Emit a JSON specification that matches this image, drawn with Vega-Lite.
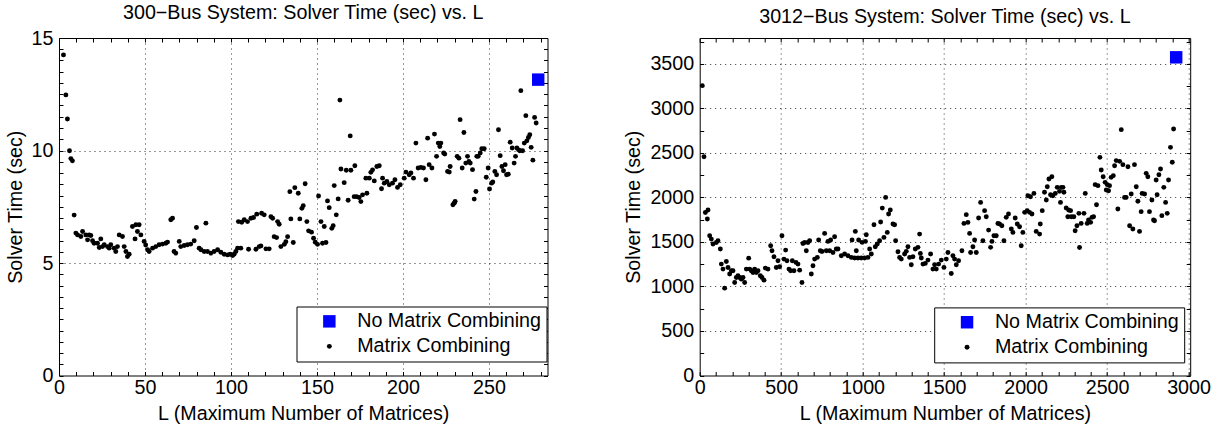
{
  "$schema": "https://vega.github.io/schema/vega-lite/v6.json",
  "background": "white",
  "padding": {"left": 5, "top": 3, "right": 5, "bottom": 3},
  "bounds": "flush",
  "spacing": 151.7,
  "resolve": {"scale": {"color": "independent", "shape": "independent", "size": "independent"}, "legend": {"color": "independent", "shape": "independent", "size": "independent"}},
  "config": {
    "font": "Liberation Sans",
    "view": {"stroke": null},
    "axis": {"labelFontSize": 19.7, "titleFontSize": 19.7, "titleFontWeight": "normal", "labelColor": "#000", "titleColor": "#000", "domainColor": "#000", "domainWidth": 1, "tickColor": "#000", "labelFlush": false, "labelOverlap": false, "format": "d"},
    "title": {"fontSize": 19.7, "fontWeight": "normal", "color": "#000", "offset": 5},
    "legend": {"title": null, "orient": "none", "strokeColor": "#000", "fillColor": "#fff", "padding": 5, "labelFontSize": 19.7, "labelColor": "#000", "labelLimit": 400, "symbolOffset": 18, "labelOffset": 18, "rowPadding": 4, "symbolStrokeWidth": 0}
  },
  "hconcat": [
    {
      "width": 488.5,
      "height": 337.5,
      "title": "300−Bus System: Solver Time (sec) vs. L",
      "data": {"values": [
        {"L":2.6,"t":14.25,"s":"Matrix Combining"},{"L":4,"t":12.47,"s":"Matrix Combining"},{"L":4.9,"t":11.4,"s":"Matrix Combining"},{"L":6.1,"t":9.99,"s":"Matrix Combining"},{"L":6.9,"t":9.64,"s":"Matrix Combining"},{"L":7.8,"t":9.54,"s":"Matrix Combining"},{"L":8.8,"t":7.13,"s":"Matrix Combining"},{"L":9.8,"t":6.33,"s":"Matrix Combining"},{"L":10.8,"t":6.25,"s":"Matrix Combining"},{"L":12.7,"t":6.18,"s":"Matrix Combining"},
        {"L":13.7,"t":6.4,"s":"Matrix Combining"},{"L":15.6,"t":6.25,"s":"Matrix Combining"},{"L":16.6,"t":6.03,"s":"Matrix Combining"},{"L":17.5,"t":6.25,"s":"Matrix Combining"},{"L":18.5,"t":6.22,"s":"Matrix Combining"},{"L":19.5,"t":5.99,"s":"Matrix Combining"},{"L":20.4,"t":5.88,"s":"Matrix Combining"},{"L":22.4,"t":5.88,"s":"Matrix Combining"},{"L":23.4,"t":5.69,"s":"Matrix Combining"},{"L":24.3,"t":6.07,"s":"Matrix Combining"},
        {"L":25.3,"t":5.73,"s":"Matrix Combining"},{"L":26.3,"t":5.81,"s":"Matrix Combining"},{"L":28.2,"t":5.73,"s":"Matrix Combining"},{"L":29.2,"t":5.66,"s":"Matrix Combining"},{"L":30.1,"t":5.81,"s":"Matrix Combining"},{"L":32.1,"t":5.66,"s":"Matrix Combining"},{"L":33,"t":5.51,"s":"Matrix Combining"},{"L":34,"t":5.73,"s":"Matrix Combining"},{"L":35,"t":6.25,"s":"Matrix Combining"},{"L":36.9,"t":6.18,"s":"Matrix Combining"},
        {"L":37.9,"t":5.73,"s":"Matrix Combining"},{"L":38.9,"t":5.51,"s":"Matrix Combining"},{"L":39.8,"t":5.29,"s":"Matrix Combining"},{"L":40.8,"t":5.39,"s":"Matrix Combining"},{"L":42.7,"t":6.62,"s":"Matrix Combining"},{"L":44.7,"t":6.7,"s":"Matrix Combining"},{"L":46.6,"t":6.7,"s":"Matrix Combining"},{"L":44.2,"t":6.07,"s":"Matrix Combining"},{"L":45.6,"t":6.4,"s":"Matrix Combining"},{"L":47.6,"t":6.25,"s":"Matrix Combining"},
        {"L":49.5,"t":5.96,"s":"Matrix Combining"},{"L":50.4,"t":5.8,"s":"Matrix Combining"},{"L":51.5,"t":5.59,"s":"Matrix Combining"},{"L":52.4,"t":5.51,"s":"Matrix Combining"},{"L":54.4,"t":5.66,"s":"Matrix Combining"},{"L":56.3,"t":5.73,"s":"Matrix Combining"},{"L":58.2,"t":5.81,"s":"Matrix Combining"},{"L":60.2,"t":5.84,"s":"Matrix Combining"},{"L":62.1,"t":5.88,"s":"Matrix Combining"},{"L":63.1,"t":5.93,"s":"Matrix Combining"},
        {"L":65,"t":6.92,"s":"Matrix Combining"},{"L":66,"t":6.99,"s":"Matrix Combining"},{"L":66.9,"t":5.51,"s":"Matrix Combining"},{"L":67.9,"t":5.44,"s":"Matrix Combining"},{"L":69.9,"t":5.96,"s":"Matrix Combining"},{"L":70.8,"t":5.73,"s":"Matrix Combining"},{"L":72.8,"t":5.78,"s":"Matrix Combining"},{"L":74.7,"t":5.81,"s":"Matrix Combining"},{"L":76.6,"t":5.84,"s":"Matrix Combining"},{"L":78.6,"t":5.99,"s":"Matrix Combining"},
        {"L":79.9,"t":6.58,"s":"Matrix Combining"},{"L":81.5,"t":5.66,"s":"Matrix Combining"},{"L":82.5,"t":5.59,"s":"Matrix Combining"},{"L":84.4,"t":5.51,"s":"Matrix Combining"},{"L":85.4,"t":6.77,"s":"Matrix Combining"},{"L":86.3,"t":5.51,"s":"Matrix Combining"},{"L":88.3,"t":5.44,"s":"Matrix Combining"},{"L":90.2,"t":5.51,"s":"Matrix Combining"},{"L":92.2,"t":5.59,"s":"Matrix Combining"},{"L":94.1,"t":5.48,"s":"Matrix Combining"},
        {"L":96,"t":5.39,"s":"Matrix Combining"},{"L":98,"t":5.36,"s":"Matrix Combining"},{"L":99.5,"t":5.39,"s":"Matrix Combining"},{"L":100.9,"t":5.33,"s":"Matrix Combining"},{"L":101.8,"t":5.39,"s":"Matrix Combining"},{"L":102.8,"t":5.51,"s":"Matrix Combining"},
        {"L":103.8,"t":5.66,"s":"Matrix Combining"},{"L":105.7,"t":5.66,"s":"Matrix Combining"},{"L":110.2,"t":5.61,"s":"Matrix Combining"},{"L":114.5,"t":5.61,"s":"Matrix Combining"},{"L":116.4,"t":5.73,"s":"Matrix Combining"},{"L":117.4,"t":5.76,"s":"Matrix Combining"},{"L":120.3,"t":5.63,"s":"Matrix Combining"},{"L":122.2,"t":5.63,"s":"Matrix Combining"},{"L":104.3,"t":6.84,"s":"Matrix Combining"},{"L":106.2,"t":6.81,"s":"Matrix Combining"},
        {"L":107.7,"t":6.92,"s":"Matrix Combining"},{"L":109.6,"t":6.84,"s":"Matrix Combining"},{"L":111.6,"t":6.99,"s":"Matrix Combining"},{"L":113.1,"t":7.02,"s":"Matrix Combining"},{"L":115,"t":7.17,"s":"Matrix Combining"},{"L":117.8,"t":7.21,"s":"Matrix Combining"},{"L":119.3,"t":7.14,"s":"Matrix Combining"},{"L":123.2,"t":7.06,"s":"Matrix Combining"},{"L":124.2,"t":6.99,"s":"Matrix Combining"},{"L":127.1,"t":6.84,"s":"Matrix Combining"},
        {"L":128,"t":6.72,"s":"Matrix Combining"},{"L":125.1,"t":6.17,"s":"Matrix Combining"},{"L":126.5,"t":6.13,"s":"Matrix Combining"},{"L":129,"t":5.73,"s":"Matrix Combining"},{"L":131,"t":5.83,"s":"Matrix Combining"},{"L":132.9,"t":6.17,"s":"Matrix Combining"},{"L":131.9,"t":5.95,"s":"Matrix Combining"},{"L":136.2,"t":5.91,"s":"Matrix Combining"},{"L":134.8,"t":6.96,"s":"Matrix Combining"},{"L":134.2,"t":8.17,"s":"Matrix Combining"},
        {"L":137.1,"t":8.35,"s":"Matrix Combining"},{"L":139.1,"t":8.1,"s":"Matrix Combining"},{"L":143.1,"t":8.52,"s":"Matrix Combining"},{"L":140,"t":6.96,"s":"Matrix Combining"},{"L":141.2,"t":7.43,"s":"Matrix Combining"},{"L":142,"t":7.55,"s":"Matrix Combining"},{"L":144.1,"t":6.84,"s":"Matrix Combining"},{"L":145.1,"t":6.43,"s":"Matrix Combining"},{"L":146.8,"t":6.37,"s":"Matrix Combining"},{"L":148,"t":6.1,"s":"Matrix Combining"},
        {"L":149,"t":5.92,"s":"Matrix Combining"},{"L":150.3,"t":5.83,"s":"Matrix Combining"},{"L":153.2,"t":5.88,"s":"Matrix Combining"},{"L":155.2,"t":5.91,"s":"Matrix Combining"},{"L":150.9,"t":7.98,"s":"Matrix Combining"},{"L":152.3,"t":6.84,"s":"Matrix Combining"},{"L":154.2,"t":6.62,"s":"Matrix Combining"},{"L":156.1,"t":7.76,"s":"Matrix Combining"},{"L":157.1,"t":7.46,"s":"Matrix Combining"},{"L":158.6,"t":6.54,"s":"Matrix Combining"},
        {"L":159.4,"t":6.66,"s":"Matrix Combining"},{"L":160,"t":8.44,"s":"Matrix Combining"},{"L":161.2,"t":7.14,"s":"Matrix Combining"},{"L":162.3,"t":7.85,"s":"Matrix Combining"},{"L":163.3,"t":12.24,"s":"Matrix Combining"},{"L":163.9,"t":9.18,"s":"Matrix Combining"},{"L":165.8,"t":8.57,"s":"Matrix Combining"},{"L":167,"t":9.12,"s":"Matrix Combining"},{"L":169.3,"t":10.65,"s":"Matrix Combining"},{"L":168.1,"t":7.79,"s":"Matrix Combining"},
        {"L":169.7,"t":9.12,"s":"Matrix Combining"},{"L":172,"t":9.32,"s":"Matrix Combining"},{"L":171.6,"t":7.95,"s":"Matrix Combining"},{"L":173,"t":7.95,"s":"Matrix Combining"},{"L":174.5,"t":7.91,"s":"Matrix Combining"},{"L":175.5,"t":7.73,"s":"Matrix Combining"},{"L":176.5,"t":8.03,"s":"Matrix Combining"},{"L":179,"t":8.1,"s":"Matrix Combining"},{"L":178.4,"t":8.77,"s":"Matrix Combining"},{"L":180.4,"t":8.77,"s":"Matrix Combining"},
        {"L":181.3,"t":9.03,"s":"Matrix Combining"},{"L":182.3,"t":9.14,"s":"Matrix Combining"},{"L":183.3,"t":8.65,"s":"Matrix Combining"},{"L":184.8,"t":9.29,"s":"Matrix Combining"},{"L":186.2,"t":9.32,"s":"Matrix Combining"},{"L":188.1,"t":8.77,"s":"Matrix Combining"},{"L":187.5,"t":8.3,"s":"Matrix Combining"},{"L":189.1,"t":8.55,"s":"Matrix Combining"},{"L":190.6,"t":8.62,"s":"Matrix Combining"},
        {"L":192,"t":8.48,"s":"Matrix Combining"},{"L":193.9,"t":8.55,"s":"Matrix Combining"},{"L":195.3,"t":8.7,"s":"Matrix Combining"},{"L":196.8,"t":8.36,"s":"Matrix Combining"},{"L":198.4,"t":8.48,"s":"Matrix Combining"},{"L":200.7,"t":8.77,"s":"Matrix Combining"},{"L":201.7,"t":9.04,"s":"Matrix Combining"},{"L":203.6,"t":8.92,"s":"Matrix Combining"},{"L":204.6,"t":9,"s":"Matrix Combining"},{"L":206.1,"t":8.77,"s":"Matrix Combining"},
        {"L":207.5,"t":10.33,"s":"Matrix Combining"},{"L":208.8,"t":9.22,"s":"Matrix Combining"},{"L":210.4,"t":9.25,"s":"Matrix Combining"},{"L":211.9,"t":9.22,"s":"Matrix Combining"},{"L":213.3,"t":8.7,"s":"Matrix Combining"},{"L":214.3,"t":10.55,"s":"Matrix Combining"},{"L":215.2,"t":9.37,"s":"Matrix Combining"},{"L":216.8,"t":9.22,"s":"Matrix Combining"},{"L":218.3,"t":10.73,"s":"Matrix Combining"},{"L":219.5,"t":9.74,"s":"Matrix Combining"},
        {"L":220.5,"t":10.33,"s":"Matrix Combining"},{"L":222,"t":10.33,"s":"Matrix Combining"},{"L":221.4,"t":10.18,"s":"Matrix Combining"},{"L":223.6,"t":9.89,"s":"Matrix Combining"},{"L":224.3,"t":9.84,"s":"Matrix Combining"},{"L":225.9,"t":9.07,"s":"Matrix Combining"},{"L":226.9,"t":9.04,"s":"Matrix Combining"},{"L":227.4,"t":9.29,"s":"Matrix Combining"},{"L":229,"t":7.59,"s":"Matrix Combining"},{"L":229.8,"t":7.66,"s":"Matrix Combining"},
        {"L":230.3,"t":7.74,"s":"Matrix Combining"},{"L":231.5,"t":9.74,"s":"Matrix Combining"},{"L":232.5,"t":9.66,"s":"Matrix Combining"},{"L":233.2,"t":11.37,"s":"Matrix Combining"},{"L":234.4,"t":9.22,"s":"Matrix Combining"},{"L":235.4,"t":10.8,"s":"Matrix Combining"},{"L":236.5,"t":9.44,"s":"Matrix Combining"},{"L":237.5,"t":9.74,"s":"Matrix Combining"},{"L":238.3,"t":9.51,"s":"Matrix Combining"},{"L":239.1,"t":9.44,"s":"Matrix Combining"},
        {"L":240.4,"t":9.15,"s":"Matrix Combining"},{"L":241.4,"t":7.84,"s":"Matrix Combining"},{"L":242.4,"t":8.18,"s":"Matrix Combining"},{"L":242.9,"t":9.74,"s":"Matrix Combining"},{"L":243.7,"t":9.74,"s":"Matrix Combining"},{"L":244.9,"t":9.89,"s":"Matrix Combining"},{"L":245.8,"t":10.08,"s":"Matrix Combining"},{"L":247.2,"t":10.08,"s":"Matrix Combining"},{"L":248.4,"t":8.81,"s":"Matrix Combining"},{"L":249.5,"t":9.22,"s":"Matrix Combining"},
        {"L":250.3,"t":8.29,"s":"Matrix Combining"},{"L":251.5,"t":8.55,"s":"Matrix Combining"},{"L":252.2,"t":8.6,"s":"Matrix Combining"},{"L":253.4,"t":9.07,"s":"Matrix Combining"},{"L":254.4,"t":8.92,"s":"Matrix Combining"},{"L":255.5,"t":10.92,"s":"Matrix Combining"},{"L":256.5,"t":9.77,"s":"Matrix Combining"},{"L":257.5,"t":9.29,"s":"Matrix Combining"},{"L":258.4,"t":9.1,"s":"Matrix Combining"},{"L":259.4,"t":9.37,"s":"Matrix Combining"},
        {"L":260.2,"t":8.92,"s":"Matrix Combining"},{"L":261.2,"t":8.95,"s":"Matrix Combining"},{"L":262.3,"t":10.37,"s":"Matrix Combining"},{"L":263.5,"t":10.11,"s":"Matrix Combining"},{"L":264.6,"t":9.44,"s":"Matrix Combining"},{"L":265.4,"t":9.74,"s":"Matrix Combining"},{"L":266.2,"t":10.11,"s":"Matrix Combining"},{"L":267.2,"t":10.03,"s":"Matrix Combining"},{"L":267.9,"t":9.99,"s":"Matrix Combining"},{"L":268.5,"t":12.66,"s":"Matrix Combining"},
        {"L":269.5,"t":9.99,"s":"Matrix Combining"},{"L":270.5,"t":10.33,"s":"Matrix Combining"},{"L":271.4,"t":11.55,"s":"Matrix Combining"},{"L":272,"t":10.43,"s":"Matrix Combining"},{"L":272.9,"t":10.58,"s":"Matrix Combining"},{"L":273.7,"t":10.7,"s":"Matrix Combining"},{"L":274.5,"t":10.14,"s":"Matrix Combining"},{"L":275.5,"t":9.57,"s":"Matrix Combining"},{"L":276.5,"t":11.47,"s":"Matrix Combining"},{"L":277.4,"t":11.22,"s":"Matrix Combining"},
        {"L":278.6,"t":13.15,"s":"No Matrix Combining"}
      ]},
      "layer": [
        {
          "mark": {"type": "point", "filled": true, "opacity": 1, "strokeWidth": 0},
          "encoding": {
            "x": {"field": "L", "type": "quantitative", "scale": {"domain": [0, 284], "nice": false, "zero": false},
                  "axis": {"orient": "bottom", "title": "L (Maximum Number of Matrices)", "values": [0,10,20,30,40,50,60,70,80,90,100,110,120,130,140,150,160,170,180,190,200,210,220,230,240,250,260,270,280],
                           "labelExpr": "datum.value % 50 === 0 ? datum.label : ''", "grid": true, "gridColor": "#000", "gridDash": [1, 4],
                           "gridOpacity": {"condition": {"test": "datum.value % 50 === 0 && datum.value > 0", "value": 0.8}, "value": 0},
                           "tickSize": -4, "labelPadding": 6, "titlePadding": 6}},
            "y": {"field": "t", "type": "quantitative", "scale": {"domain": [0, 15], "nice": false, "zero": false},
                  "axis": {"orient": "left", "title": "Solver Time (sec)", "values": [0,0.5,1,1.5,2,2.5,3,3.5,4,4.5,5,5.5,6,6.5,7,7.5,8,8.5,9,9.5,10,10.5,11,11.5,12,12.5,13,13.5,14,14.5,15],
                           "labelExpr": "datum.value % 5 === 0 ? datum.label : ''", "grid": true, "gridColor": "#000", "gridDash": [1, 4],
                           "gridOpacity": {"condition": {"test": "datum.value % 5 === 0 && datum.value > 0 && datum.value < 15", "value": 0.8}, "value": 0},
                           "tickSize": -4, "labelPadding": 10, "titlePadding": 6}},
            "color": {"field": "s", "type": "nominal", "scale": {"domain": ["No Matrix Combining", "Matrix Combining"], "range": ["#0000ff", "#000000"]}, "legend": {"legendX": 237.5, "legendY": 268.5}},
            "shape": {"field": "s", "type": "nominal", "scale": {"domain": ["No Matrix Combining", "Matrix Combining"], "range": ["square", "circle"]}, "legend": {"legendX": 237.5, "legendY": 268.5}},
            "size": {"field": "s", "type": "nominal", "scale": {"domain": ["No Matrix Combining", "Matrix Combining"], "range": [155, 24]}, "legend": {"legendX": 237.5, "legendY": 268.5}}
          }
        },
        {
          "mark": {"type": "point", "opacity": 0},
          "encoding": {
            "x": {"field": "L", "type": "quantitative", "scale": {"domain": [0, 284], "nice": false, "zero": false},
                  "axis": {"orient": "top", "title": null, "labels": false, "grid": false, "tickSize": -4, "values": [0,10,20,30,40,50,60,70,80,90,100,110,120,130,140,150,160,170,180,190,200,210,220,230,240,250,260,270,280]}},
            "y": {"field": "t", "type": "quantitative", "scale": {"domain": [0, 15], "nice": false, "zero": false},
                  "axis": {"orient": "right", "title": null, "labels": false, "grid": false, "tickSize": -4, "values": [0,0.5,1,1.5,2,2.5,3,3.5,4,4.5,5,5.5,6,6.5,7,7.5,8,8.5,9,9.5,10,10.5,11,11.5,12,12.5,13,13.5,14,14.5,15]}}
          }
        }
      ],
      "resolve": {"axis": {"x": "independent", "y": "independent"}}
    },
    {
      "width": 490.5,
      "height": 337.5,
      "title": "3012−Bus System: Solver Time (sec) vs. L",
      "data": {"values": [
        {"L":16,"t":3255,"s":"Matrix Combining"},{"L":26.4,"t":2457,"s":"Matrix Combining"},{"L":34.8,"t":1831,"s":"Matrix Combining"},{"L":51,"t":1858,"s":"Matrix Combining"},{"L":46.8,"t":1757,"s":"Matrix Combining"},{"L":61.1,"t":1570,"s":"Matrix Combining"},{"L":71.4,"t":1532,"s":"Matrix Combining"},{"L":81.6,"t":1476,"s":"Matrix Combining"},{"L":102,"t":1494,"s":"Matrix Combining"},{"L":112.3,"t":1513,"s":"Matrix Combining"},
        {"L":126.6,"t":1420,"s":"Matrix Combining"},{"L":132.7,"t":1251,"s":"Matrix Combining"},{"L":143,"t":1195,"s":"Matrix Combining"},{"L":153.2,"t":981,"s":"Matrix Combining"},{"L":163.4,"t":1281,"s":"Matrix Combining"},{"L":173.7,"t":1213,"s":"Matrix Combining"},{"L":183.9,"t":1139,"s":"Matrix Combining"},{"L":194.1,"t":1176,"s":"Matrix Combining"},{"L":204.3,"t":1176,"s":"Matrix Combining"},{"L":214.6,"t":1045,"s":"Matrix Combining"},
        {"L":224.8,"t":1101,"s":"Matrix Combining"},{"L":235,"t":1120,"s":"Matrix Combining"},{"L":245.2,"t":1101,"s":"Matrix Combining"},{"L":255.5,"t":1082,"s":"Matrix Combining"},{"L":265.7,"t":1101,"s":"Matrix Combining"},{"L":275.9,"t":1045,"s":"Matrix Combining"},{"L":286.2,"t":1195,"s":"Matrix Combining"},{"L":300.5,"t":1318,"s":"Matrix Combining"},{"L":306.6,"t":1195,"s":"Matrix Combining"},{"L":316.8,"t":1176,"s":"Matrix Combining"},
        {"L":327,"t":1157,"s":"Matrix Combining"},{"L":337.3,"t":1195,"s":"Matrix Combining"},{"L":347.5,"t":1157,"s":"Matrix Combining"},{"L":357.7,"t":1176,"s":"Matrix Combining"},{"L":372,"t":1120,"s":"Matrix Combining"},{"L":382.2,"t":1101,"s":"Matrix Combining"},{"L":394.5,"t":1071,"s":"Matrix Combining"},{"L":402.7,"t":1206,"s":"Matrix Combining"},{"L":419,"t":1195,"s":"Matrix Combining"},{"L":435.4,"t":1457,"s":"Matrix Combining"},
        {"L":443.6,"t":1401,"s":"Matrix Combining"},{"L":455.8,"t":1333,"s":"Matrix Combining"},{"L":470.1,"t":1213,"s":"Matrix Combining"},{"L":480.3,"t":1288,"s":"Matrix Combining"},{"L":490.6,"t":1221,"s":"Matrix Combining"},{"L":504.9,"t":1570,"s":"Matrix Combining"},{"L":517.1,"t":1307,"s":"Matrix Combining"},{"L":527.4,"t":1408,"s":"Matrix Combining"},{"L":535.5,"t":1288,"s":"Matrix Combining"},{"L":547.8,"t":1195,"s":"Matrix Combining"},
        {"L":558,"t":1176,"s":"Matrix Combining"},{"L":568.3,"t":1288,"s":"Matrix Combining"},{"L":578.5,"t":1176,"s":"Matrix Combining"},{"L":590.8,"t":1270,"s":"Matrix Combining"},{"L":603.1,"t":1251,"s":"Matrix Combining"},{"L":613.3,"t":1183,"s":"Matrix Combining"},{"L":627.6,"t":1045,"s":"Matrix Combining"},{"L":633.7,"t":1483,"s":"Matrix Combining"},{"L":643.9,"t":1494,"s":"Matrix Combining"},{"L":654.2,"t":1401,"s":"Matrix Combining"},
        {"L":664.4,"t":1494,"s":"Matrix Combining"},{"L":674.6,"t":1513,"s":"Matrix Combining"},{"L":684.9,"t":1139,"s":"Matrix Combining"},{"L":695.1,"t":1232,"s":"Matrix Combining"},{"L":705.3,"t":1307,"s":"Matrix Combining"},{"L":721.7,"t":1326,"s":"Matrix Combining"},{"L":729.9,"t":1521,"s":"Matrix Combining"},{"L":740.1,"t":1401,"s":"Matrix Combining"},{"L":750.3,"t":1393,"s":"Matrix Combining"},{"L":766.7,"t":1596,"s":"Matrix Combining"},
        {"L":776.9,"t":1401,"s":"Matrix Combining"},{"L":787.1,"t":1506,"s":"Matrix Combining"},{"L":797.4,"t":1401,"s":"Matrix Combining"},{"L":803.5,"t":1521,"s":"Matrix Combining"},{"L":817.8,"t":1382,"s":"Matrix Combining"},{"L":828,"t":1558,"s":"Matrix Combining"},{"L":838.3,"t":1420,"s":"Matrix Combining"},
        {"L":848.5,"t":1420,"s":"Matrix Combining"},{"L":869,"t":1345,"s":"Matrix Combining"},{"L":889.4,"t":1364,"s":"Matrix Combining"},{"L":909.9,"t":1345,"s":"Matrix Combining"},{"L":930.3,"t":1326,"s":"Matrix Combining"},{"L":950.7,"t":1319,"s":"Matrix Combining"},{"L":961,"t":1401,"s":"Matrix Combining"},{"L":971.2,"t":1319,"s":"Matrix Combining"},{"L":991.6,"t":1319,"s":"Matrix Combining"},{"L":1012,"t":1319,"s":"Matrix Combining"},
        {"L":1032.5,"t":1326,"s":"Matrix Combining"},{"L":935,"t":1521,"s":"Matrix Combining"},{"L":955,"t":1618,"s":"Matrix Combining"},{"L":975.3,"t":1521,"s":"Matrix Combining"},{"L":996,"t":1495,"s":"Matrix Combining"},{"L":1017,"t":1506,"s":"Matrix Combining"},{"L":1022.3,"t":1581,"s":"Matrix Combining"},{"L":1042.8,"t":1420,"s":"Matrix Combining"},{"L":1053,"t":1364,"s":"Matrix Combining"},{"L":1069.4,"t":1693,"s":"Matrix Combining"},
        {"L":1077.5,"t":1446,"s":"Matrix Combining"},{"L":1089.8,"t":1476,"s":"Matrix Combining"},{"L":1104.1,"t":1513,"s":"Matrix Combining"},{"L":1110.3,"t":1723,"s":"Matrix Combining"},{"L":1120.5,"t":1880,"s":"Matrix Combining"},{"L":1130.7,"t":1551,"s":"Matrix Combining"},{"L":1141,"t":2000,"s":"Matrix Combining"},{"L":1151.2,"t":1607,"s":"Matrix Combining"},{"L":1159.3,"t":1813,"s":"Matrix Combining"},{"L":1169.6,"t":1858,"s":"Matrix Combining"},
        {"L":1185.9,"t":1701,"s":"Matrix Combining"},{"L":1196.1,"t":1693,"s":"Matrix Combining"},{"L":1202.3,"t":1513,"s":"Matrix Combining"},{"L":1216.6,"t":1390,"s":"Matrix Combining"},{"L":1226.8,"t":1326,"s":"Matrix Combining"},{"L":1237,"t":1307,"s":"Matrix Combining"},{"L":1257.5,"t":1364,"s":"Matrix Combining"},{"L":1267.7,"t":1394,"s":"Matrix Combining"},{"L":1277.9,"t":1446,"s":"Matrix Combining"},{"L":1288.2,"t":1326,"s":"Matrix Combining"},
        {"L":1298.4,"t":1244,"s":"Matrix Combining"},{"L":1308.6,"t":1334,"s":"Matrix Combining"},{"L":1323,"t":1420,"s":"Matrix Combining"},{"L":1339.3,"t":1439,"s":"Matrix Combining"},{"L":1349.5,"t":1588,"s":"Matrix Combining"},{"L":1354,"t":1371,"s":"Matrix Combining"},{"L":1359.8,"t":1319,"s":"Matrix Combining"},{"L":1370,"t":1251,"s":"Matrix Combining"},{"L":1384.3,"t":1259,"s":"Matrix Combining"},{"L":1400.7,"t":1296,"s":"Matrix Combining"},
        {"L":1417,"t":1364,"s":"Matrix Combining"},{"L":1431.3,"t":1195,"s":"Matrix Combining"},{"L":1441.6,"t":1244,"s":"Matrix Combining"},{"L":1451.8,"t":1195,"s":"Matrix Combining"},{"L":1466.1,"t":1251,"s":"Matrix Combining"},{"L":1482.5,"t":1296,"s":"Matrix Combining"},{"L":1498.8,"t":1214,"s":"Matrix Combining"},{"L":1513.1,"t":1307,"s":"Matrix Combining"},{"L":1523.3,"t":1382,"s":"Matrix Combining"},{"L":1543.8,"t":1146,"s":"Matrix Combining"},
        {"L":1554,"t":1345,"s":"Matrix Combining"},{"L":1564.2,"t":1307,"s":"Matrix Combining"},{"L":1574.5,"t":1244,"s":"Matrix Combining"},{"L":1588.8,"t":1289,"s":"Matrix Combining"},{"L":1609.2,"t":1401,"s":"Matrix Combining"},{"L":1621.5,"t":1708,"s":"Matrix Combining"},{"L":1635.8,"t":1806,"s":"Matrix Combining"},{"L":1646,"t":1719,"s":"Matrix Combining"},{"L":1656.3,"t":1596,"s":"Matrix Combining"},{"L":1662.4,"t":1382,"s":"Matrix Combining"},
        {"L":1676.7,"t":1446,"s":"Matrix Combining"},{"L":1687,"t":1521,"s":"Matrix Combining"},{"L":1697.2,"t":1382,"s":"Matrix Combining"},{"L":1711.5,"t":1768,"s":"Matrix Combining"},{"L":1723.8,"t":1944,"s":"Matrix Combining"},{"L":1738,"t":1513,"s":"Matrix Combining"},{"L":1748.3,"t":1851,"s":"Matrix Combining"},{"L":1758.5,"t":1783,"s":"Matrix Combining"},{"L":1772.8,"t":1633,"s":"Matrix Combining"},{"L":1785.1,"t":1439,"s":"Matrix Combining"},
        {"L":1793.3,"t":1506,"s":"Matrix Combining"},{"L":1805.6,"t":1570,"s":"Matrix Combining"},{"L":1819.9,"t":1570,"s":"Matrix Combining"},{"L":1830.1,"t":1708,"s":"Matrix Combining"},{"L":1866.9,"t":1513,"s":"Matrix Combining"},{"L":1973,"t":1457,"s":"Matrix Combining"},{"L":2331,"t":1438,"s":"Matrix Combining"},
        {"L":1840,"t":1701,"s":"Matrix Combining"},{"L":1854.5,"t":1682,"s":"Matrix Combining"},{"L":1881,"t":1776,"s":"Matrix Combining"},{"L":1895,"t":1813,"s":"Matrix Combining"},{"L":1912,"t":1645,"s":"Matrix Combining"},{"L":1922,"t":1607,"s":"Matrix Combining"},{"L":1936,"t":1768,"s":"Matrix Combining"},{"L":1949,"t":1701,"s":"Matrix Combining"},{"L":1963,"t":1671,"s":"Matrix Combining"},{"L":1983,"t":1607,"s":"Matrix Combining"},
        {"L":1994,"t":1832,"s":"Matrix Combining"},{"L":2010,"t":1851,"s":"Matrix Combining"},{"L":2024,"t":1832,"s":"Matrix Combining"},{"L":2039,"t":1813,"s":"Matrix Combining"},{"L":2014,"t":2019,"s":"Matrix Combining"},{"L":2030,"t":2008,"s":"Matrix Combining"},{"L":2051,"t":2045,"s":"Matrix Combining"},{"L":2065,"t":1618,"s":"Matrix Combining"},{"L":2086,"t":1588,"s":"Matrix Combining"},{"L":2090,"t":1701,"s":"Matrix Combining"},
        {"L":2102,"t":1851,"s":"Matrix Combining"},{"L":2116,"t":2057,"s":"Matrix Combining"},{"L":2127,"t":1970,"s":"Matrix Combining"},{"L":2133,"t":2120,"s":"Matrix Combining"},{"L":2143,"t":2206,"s":"Matrix Combining"},{"L":2161,"t":2232,"s":"Matrix Combining"},{"L":2153,"t":2030,"s":"Matrix Combining"},{"L":2167,"t":2019,"s":"Matrix Combining"},{"L":2182,"t":2045,"s":"Matrix Combining"},{"L":2194,"t":2113,"s":"Matrix Combining"},
        {"L":2208,"t":2068,"s":"Matrix Combining"},{"L":2219,"t":2113,"s":"Matrix Combining"},{"L":2229,"t":2113,"s":"Matrix Combining"},{"L":2235,"t":2057,"s":"Matrix Combining"},{"L":2214,"t":1944,"s":"Matrix Combining"},{"L":2249,"t":1881,"s":"Matrix Combining"},{"L":2264,"t":1858,"s":"Matrix Combining"},{"L":2276,"t":1851,"s":"Matrix Combining"},{"L":2259,"t":1783,"s":"Matrix Combining"},{"L":2280,"t":1783,"s":"Matrix Combining"},
        {"L":2296,"t":1783,"s":"Matrix Combining"},{"L":2304,"t":1626,"s":"Matrix Combining"},{"L":2315,"t":1682,"s":"Matrix Combining"},{"L":2327,"t":1821,"s":"Matrix Combining"},{"L":2341,"t":1708,"s":"Matrix Combining"},{"L":2358,"t":1821,"s":"Matrix Combining"},{"L":2366,"t":2045,"s":"Matrix Combining"},{"L":2378,"t":1708,"s":"Matrix Combining"},{"L":2386,"t":1746,"s":"Matrix Combining"},{"L":2399,"t":1720,"s":"Matrix Combining"},
        {"L":2407,"t":1776,"s":"Matrix Combining"},{"L":2417,"t":1783,"s":"Matrix Combining"},{"L":2435,"t":1918,"s":"Matrix Combining"},{"L":2427,"t":2143,"s":"Matrix Combining"},{"L":2444,"t":2132,"s":"Matrix Combining"},{"L":2456,"t":2450,"s":"Matrix Combining"},{"L":2464,"t":2308,"s":"Matrix Combining"},{"L":2476,"t":2232,"s":"Matrix Combining"},{"L":2488,"t":2169,"s":"Matrix Combining"},{"L":2501,"t":2143,"s":"Matrix Combining"},
        {"L":2495,"t":2083,"s":"Matrix Combining"},{"L":2509,"t":2075,"s":"Matrix Combining"},{"L":2515,"t":2132,"s":"Matrix Combining"},{"L":2525,"t":2225,"s":"Matrix Combining"},{"L":2538,"t":2244,"s":"Matrix Combining"},{"L":2546,"t":2356,"s":"Matrix Combining"},{"L":2556,"t":2413,"s":"Matrix Combining"},{"L":2566,"t":1869,"s":"Matrix Combining"},{"L":2577,"t":2405,"s":"Matrix Combining"},{"L":2587,"t":2761,"s":"Matrix Combining"},
        {"L":2597,"t":2368,"s":"Matrix Combining"},{"L":2607,"t":2000,"s":"Matrix Combining"},{"L":2617,"t":2000,"s":"Matrix Combining"},{"L":2628,"t":2345,"s":"Matrix Combining"},{"L":2638,"t":1682,"s":"Matrix Combining"},{"L":2648,"t":2038,"s":"Matrix Combining"},{"L":2658,"t":1645,"s":"Matrix Combining"},{"L":2668,"t":2368,"s":"Matrix Combining"},{"L":2679,"t":2120,"s":"Matrix Combining"},{"L":2689,"t":1956,"s":"Matrix Combining"},
        {"L":2699,"t":1618,"s":"Matrix Combining"},{"L":2709,"t":1840,"s":"Matrix Combining"},{"L":2715,"t":2045,"s":"Matrix Combining"},{"L":2730,"t":2038,"s":"Matrix Combining"},{"L":2740,"t":2270,"s":"Matrix Combining"},{"L":2750,"t":2232,"s":"Matrix Combining"},{"L":2760,"t":1840,"s":"Matrix Combining"},{"L":2775,"t":1970,"s":"Matrix Combining"},{"L":2785,"t":1746,"s":"Matrix Combining"},{"L":2791,"t":1738,"s":"Matrix Combining"},
        {"L":2801,"t":2195,"s":"Matrix Combining"},{"L":2807,"t":2030,"s":"Matrix Combining"},{"L":2818,"t":2255,"s":"Matrix Combining"},{"L":2828,"t":2319,"s":"Matrix Combining"},{"L":2836,"t":1795,"s":"Matrix Combining"},{"L":2848,"t":2113,"s":"Matrix Combining"},{"L":2859,"t":1944,"s":"Matrix Combining"},{"L":2869,"t":1821,"s":"Matrix Combining"},{"L":2877,"t":2195,"s":"Matrix Combining"},{"L":2889,"t":2562,"s":"Matrix Combining"},
        {"L":2900,"t":2394,"s":"Matrix Combining"},{"L":2908,"t":2768,"s":"Matrix Combining"},
        {"L":2924,"t":3573,"s":"No Matrix Combining"}
      ]},
      "layer": [
        {
          "mark": {"type": "point", "filled": true, "opacity": 1, "strokeWidth": 0},
          "encoding": {
            "x": {"field": "L", "type": "quantitative", "scale": {"domain": [0, 3010], "nice": false, "zero": false},
                  "axis": {"orient": "bottom", "title": "L (Maximum Number of Matrices)", "values": [0,100,200,300,400,500,600,700,800,900,1000,1100,1200,1300,1400,1500,1600,1700,1800,1900,2000,2100,2200,2300,2400,2500,2600,2700,2800,2900,3000],
                           "labelExpr": "datum.value % 500 === 0 ? datum.label : ''", "grid": true, "gridColor": "#000", "gridDash": [1, 4],
                           "gridOpacity": {"condition": {"test": "datum.value % 500 === 0 && datum.value > 0", "value": 0.8}, "value": 0},
                           "tickSize": -4, "labelPadding": 6, "titlePadding": 6}},
            "y": {"field": "t", "type": "quantitative", "scale": {"domain": [0, 3790], "nice": false, "zero": false},
                  "axis": {"orient": "left", "title": "Solver Time (sec)", "values": [0,250,500,750,1000,1250,1500,1750,2000,2250,2500,2750,3000,3250,3500,3750],
                           "labelExpr": "datum.value % 500 === 0 ? datum.label : ''", "grid": true, "gridColor": "#000", "gridDash": [1, 4],
                           "gridOpacity": {"condition": {"test": "datum.value % 500 === 0 && datum.value > 0", "value": 0.8}, "value": 0},
                           "tickSize": -4, "labelPadding": 10, "titlePadding": 6}},
            "color": {"field": "s", "type": "nominal", "scale": {"domain": ["No Matrix Combining", "Matrix Combining"], "range": ["#0000ff", "#000000"]}, "legend": {"legendX": 234.5, "legendY": 269.4}},
            "shape": {"field": "s", "type": "nominal", "scale": {"domain": ["No Matrix Combining", "Matrix Combining"], "range": ["square", "circle"]}, "legend": {"legendX": 234.5, "legendY": 269.4}},
            "size": {"field": "s", "type": "nominal", "scale": {"domain": ["No Matrix Combining", "Matrix Combining"], "range": [155, 24]}, "legend": {"legendX": 234.5, "legendY": 269.4}}
          }
        },
        {
          "mark": {"type": "point", "opacity": 0},
          "encoding": {
            "x": {"field": "L", "type": "quantitative", "scale": {"domain": [0, 3010], "nice": false, "zero": false},
                  "axis": {"orient": "top", "title": null, "labels": false, "grid": false, "tickSize": -4, "values": [0,100,200,300,400,500,600,700,800,900,1000,1100,1200,1300,1400,1500,1600,1700,1800,1900,2000,2100,2200,2300,2400,2500,2600,2700,2800,2900,3000]}},
            "y": {"field": "t", "type": "quantitative", "scale": {"domain": [0, 3790], "nice": false, "zero": false},
                  "axis": {"orient": "right", "title": null, "labels": false, "grid": false, "tickSize": -4, "values": [0,250,500,750,1000,1250,1500,1750,2000,2250,2500,2750,3000,3250,3500,3750]}}
          }
        }
      ],
      "resolve": {"axis": {"x": "independent", "y": "independent"}}
    }
  ]
}
